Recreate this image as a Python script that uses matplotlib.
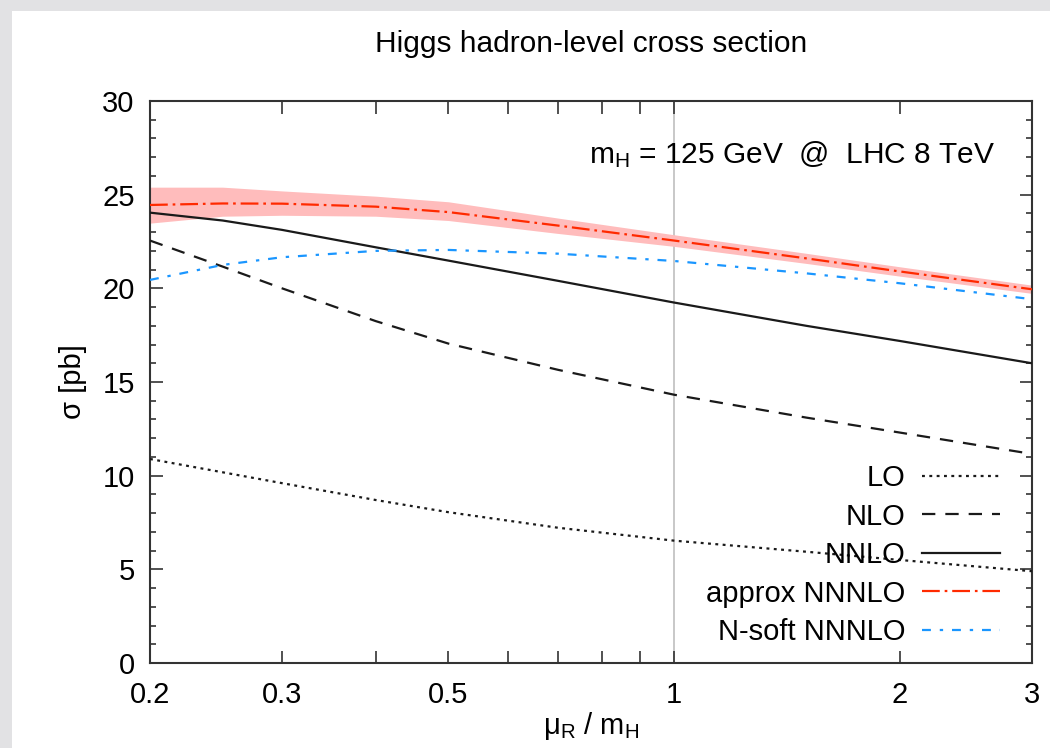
import matplotlib
matplotlib.use("Agg")
import matplotlib.pyplot as plt
from matplotlib.patches import Rectangle
from matplotlib.ticker import FixedLocator, NullLocator, MultipleLocator
import numpy as np

plt.rcParams['font.family'] = ['Liberation Sans', 'DejaVu Sans']
plt.rcParams['mathtext.fontset'] = 'custom'
plt.rcParams['mathtext.rm'] = 'Liberation Sans'
plt.rcParams['mathtext.it'] = 'Liberation Sans'
plt.rcParams['mathtext.default'] = 'regular'

# ---- data ----
mu = [0.2, 0.25, 0.3, 0.4, 0.5, 0.7, 1.0, 1.5, 2.0, 3.0]
lo = [10.89, 10.18, 9.60, 8.70, 8.05, 7.22, 6.53, 5.94, 5.50, 4.90]
nlo = [22.55, 21.16, 20.00, 18.25, 17.05, 15.65, 14.32, 13.10, 12.30, 11.16]
nnlo = [24.04, 23.62, 23.12, 22.19, 21.48, 20.40, 19.24, 18.00, 17.19, 16.00]
approx_nnnlo = [24.45, 24.53, 24.52, 24.36, 24.07, 23.35, 22.55, 21.60, 20.90, 19.95]
approx_lo = [23.48, 23.85, 23.90, 23.85, 23.62, 22.93, 22.24, 21.33, 20.65, 19.73]
approx_hi = [25.40, 25.40, 25.20, 24.92, 24.62, 23.75, 22.86, 21.87, 21.15, 20.17]
nsoft_nnnlo = [20.45, 21.25, 21.66, 22.00, 22.05, 21.85, 21.46, 20.80, 20.27, 19.42]

xticks_major = [0.2, 0.3, 0.4, 0.5, 0.6, 0.7, 0.8, 0.9, 1, 2, 3]
xtick_labels = {0.2: "0.2", 0.3: "0.3", 0.5: "0.5", 1: "1", 2: "2", 3: "3"}

FS = 21

fig = plt.figure(figsize=(10.5, 7.48), dpi=100)
fig.patch.set_facecolor('#e2e2e4')
bg = Rectangle((12/1050, 0), 1 - 12/1050, 1 - 11/748, transform=fig.transFigure,
               facecolor='white', edgecolor='none', zorder=-10)
fig.patches.append(bg)

ax = fig.add_axes([150/1050, 85/748, 882/1050, 562/748])
ax.set_zorder(1)
ax.set_facecolor('white')
ax.set_xscale('log')
ax.set_xlim(0.2, 3)
ax.set_ylim(0, 30)

ax.axvline(1.0, color='#c4c4c4', lw=1.3, zorder=1)

ax.fill_between(mu, approx_lo, approx_hi, color='#ffbcbc', lw=0, zorder=2)

dk = '#1a1a1a'
ax.plot(mu, lo, color=dk, lw=1.6, dashes=(1.3, 2.0), label='LO', zorder=3)
ax.plot(mu, nlo, color=dk, lw=1.6, dashes=(6, 4.5), label='NLO', zorder=3)
ax.plot(mu, nnlo, color=dk, lw=1.6, label='NNLO', zorder=3)
ax.plot(mu, approx_nnnlo, color='#ff2a00', lw=1.6, dashes=(8, 2.2, 1.2, 2.2), label='approx NNNLO', zorder=4)
ax.plot(mu, nsoft_nnnlo, color='#1a96ff', lw=1.6, dashes=(4, 4, 1.5, 4), label='N-soft NNNLO', zorder=3)

# ticks
ax.xaxis.set_major_locator(FixedLocator(xticks_major))
ax.xaxis.set_minor_locator(NullLocator())
ax.set_xticklabels([xtick_labels.get(t, "") for t in xticks_major])
ax.yaxis.set_major_locator(MultipleLocator(5))
ax.yaxis.set_minor_locator(MultipleLocator(1))
ax.tick_params(axis='both', which='both', direction='in', top=True, right=True,
               colors='#333333', labelcolor='black', labelsize=FS)
ax.tick_params(axis='x', which='major', length=9, width=1.2, pad=13)
ax.tick_params(axis='y', which='major', length=9, width=1.2, pad=11)
ax.tick_params(axis='y', which='minor', length=4.5, width=1.2)
for s in ax.spines.values():
    s.set_color('#333333')
    s.set_linewidth(1.5)

ax.set_xlabel(r'$\mu_R$ / $m_H$', fontsize=FS)
ax.xaxis.set_label_coords(0.5, -0.083)
ax.set_ylabel(r'σ [pb]', fontsize=FS)
ax.yaxis.set_label_coords(-0.071, 0.5)

fig.text(591/1050, 1 - 44/748, 'Higgs hadron-level cross section', ha='center', va='center', fontsize=21.5)

ax.text((995-150)/882, (663-163)/562, r'$m_H$ = 125 GeV  @  LHC 8 TeV', transform=ax.transAxes,
        ha='right', va='baseline', fontsize=21.5)

leg = ax.legend(loc='lower right', bbox_to_anchor=((1000-150)/882, 0.03), frameon=False,
                markerfirst=False, fontsize=FS, handlelength=2.67, handletextpad=0.57,
                labelspacing=0.36, borderpad=0, borderaxespad=0)

fig.savefig('out.png', dpi=100, facecolor=fig.get_facecolor())
